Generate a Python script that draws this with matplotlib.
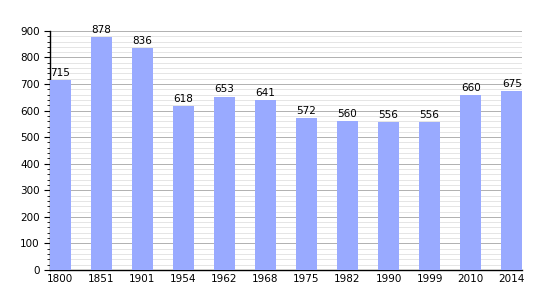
import matplotlib.pyplot as plt
from matplotlib.ticker import MultipleLocator

# population data
years = ["1800", "1851", "1901", "1954", "1962", "1968", "1975", "1982", "1990", "1999", "2010", "2014"]
population = [715, 878, 836, 618, 653, 641, 572, 560, 556, 556, 660, 675]

fig = plt.figure(figsize=(5.5, 3), dpi=100)
ax = fig.add_axes([0.091, 0.1, 0.858, 0.797])

x = range(len(years))
w = 0.5
ax.bar(x, population, width=w, color="#99aaff", zorder=3)
for i, v in zip(x, population):
    ax.text(i, v + 8, str(v), ha="center", va="bottom", fontsize=7.5, color="black")

ax.set_xlim(-w / 2, len(years) - 1 + w / 2)
ax.set_ylim(0, 900)
ax.set_xticks(list(x))
ax.set_xticklabels(years)
ax.yaxis.set_major_locator(MultipleLocator(100))
ax.yaxis.set_minor_locator(MultipleLocator(20))
ax.grid(axis="y", which="major", color="#b0b0b0", linewidth=0.7, zorder=0)
ax.grid(axis="y", which="minor", color="#e0e0e0", linewidth=0.6, zorder=0)

for s in ["top", "right"]:
    ax.spines[s].set_visible(False)
ax.spines["left"].set_linewidth(1)
ax.spines["bottom"].set_linewidth(1)
ax.tick_params(axis="both", labelsize=7.5, length=4)
ax.tick_params(axis="y", which="minor", length=2)
ax.tick_params(axis="x", length=0, pad=3)

fig.savefig("out.png", dpi=100)
